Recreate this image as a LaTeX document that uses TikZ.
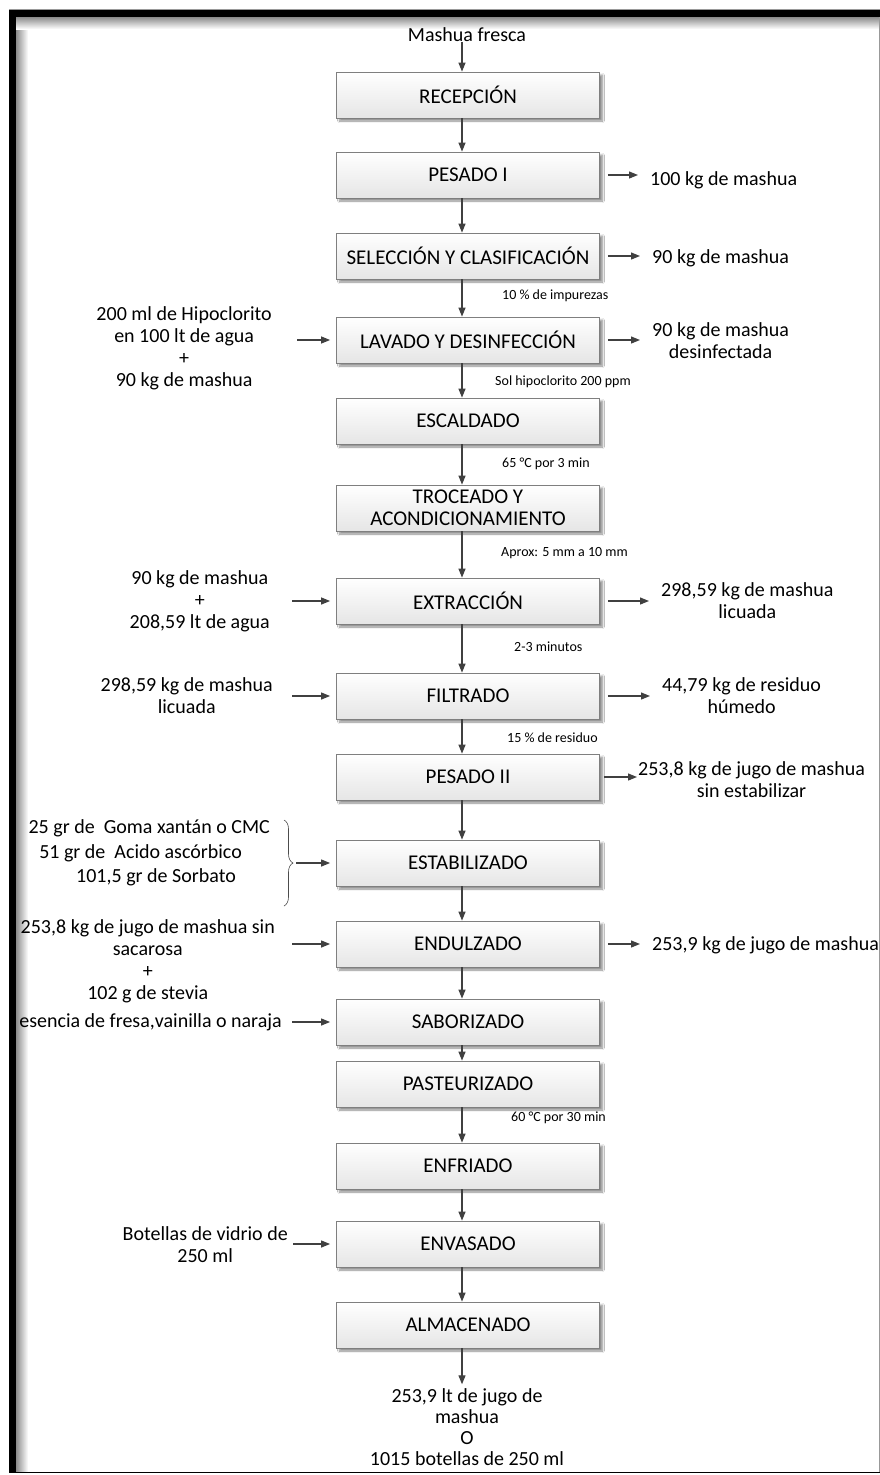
\documentclass[tikz,border=0pt]{standalone}
\usepackage{fontspec}
\setmainfont{Carlito}
\usetikzlibrary{arrows.meta,shadows.blur,decorations.pathreplacing}
\definecolor{arrgray}{HTML}{404040}
\definecolor{boxline}{HTML}{7F7F7F}
\begin{document}
\begin{tikzpicture}[x=1pt,y=-1pt,
  stepbox/.style={draw=boxline, line width=0.8pt, top color=white, bottom color=black!10,
    minimum width=263pt, minimum height=46pt, inner sep=0pt, align=center,
    font=\fontsize{21}{23}\selectfont,
    blur shadow={shadow xshift=3pt, shadow yshift=-3pt, shadow blur steps=6, shadow opacity=45}},
  lbl/.style={align=center, inner sep=0pt, font=\fontsize{20}{22}\selectfont},
  note/.style={anchor=west, inner sep=0pt, font=\fontsize{14}{16}\selectfont},
  arr/.style={draw=arrgray, line width=1.2pt, -{Triangle[length=9pt,width=7pt]}},
  rarr/.style={arr, shorten >=12pt},
  larr/.style={arr, shorten <=#1},
  bracestyle/.style={draw=black!70, line width=0.6pt, decorate, decoration={brace, amplitude=9pt}}
]
\useasboundingbox (0,0) rectangle (880,1475);
% frame
\fill[white] (0,0) rectangle (880,1475);
\shade[left color=black!45, right color=white] (16,17) rectangle (28,1472);
\shade[top color=black!45, bottom color=white] (16,17) rectangle (880,29);
\fill[black] (9,10) rectangle (880,17);
\fill[black] (9,10) rectangle (16,1473);
\draw[black!40, line width=0.6pt] (9,9.5) -- (880,9.5);
\draw[black!40, line width=0.6pt] (879,17) -- (879,1472);
\draw[black, line width=1pt] (9,1472.5) -- (880,1472.5);

% main boxes
\node[stepbox] (b1) at (468,95) {RECEPCIÓN};
\node[stepbox] (b2) at (468,175) {PESADO I};
\node[stepbox] (b3) at (468,256) {SELECCIÓN Y CLASIFICACIÓN};
\node[stepbox] (b4) at (468,340) {LAVADO Y DESINFECCIÓN};
\node[stepbox] (b5) at (468,421) {ESCALDADO};
\node[stepbox, font=\fontsize{21}{22}\selectfont] (b6) at (468,508) {TROCEADO Y\\ACONDICIONAMIENTO};
\node[stepbox] (b7) at (468,601) {EXTRACCIÓN};
\node[stepbox] (b8) at (468,696) {FILTRADO};
\node[stepbox] (b9) at (468,777) {PESADO II};
\node[stepbox] (b10) at (468,863) {ESTABILIZADO};
\node[stepbox] (b11) at (468,944) {ENDULZADO};
\node[stepbox] (b12) at (468,1022) {SABORIZADO};
\node[stepbox] (b13) at (468,1084) {PASTEURIZADO};
\node[stepbox] (b14) at (468,1166) {ENFRIADO};
\node[stepbox] (b15) at (468,1244) {ENVASADO};
\node[stepbox] (b16) at (468,1325) {ALMACENADO};

% input / output
\node[lbl] (in) at (467,35) {Mashua fresca};
\node[lbl, font=\fontsize{20}{21}\selectfont] (out) at (467,1427) {253,9 lt de jugo de\\mashua\\O\\1015 botellas de 250 ml};

% vertical arrows
\draw[arr] ([xshift=-5pt]in.south) -- ([xshift=-6pt]b1.north);
\foreach \a/\b in {b1/b2,b2/b3,b3/b4,b4/b5,b5/b6,b6/b7,b7/b8,b8/b9,b9/b10,b10/b11,b11/b12,b12/b13,b13/b14,b14/b15,b15/b16}
  \draw[arr] ([xshift=-6pt]\a.south) -- ([xshift=-6pt]\b.north);
\draw[arr, shorten >=4pt] ([xshift=-6pt]b16.south) -- ([xshift=-5pt]out.north);

% notes
\node[note] (n1) at (502,296) {10 \% de impurezas};
\node[note] (n2) at (495,382) {Sol hipoclorito 200 ppm};
\node[note] (n3) at (502,464) {65 °C por 3 min};
\node[note] (n4) at (501,553) {Aprox: 5 mm a 10 mm};
\node[note] (n5) at (514,647) {2-3 minutos};
\node[note] (n6) at (507,738) {15 \% de residuo};
\node[note] (n7) at (511,1118) {60 °C por 30 min};

% right outputs
\node[lbl, anchor=west] (r1) at (650,180) {100 kg de mashua};
\node[lbl, anchor=west] (r2) at (652,258) {90 kg de mashua};
\node[lbl, anchor=west] (r3) at (652,341) {90 kg de mashua\\desinfectada};
\node[lbl, anchor=west] (r4) at (661,601) {298,59 kg de mashua\\licuada};
\node[lbl, anchor=west] (r5) at (662,696) {44,79 kg de residuo\\húmedo};
\node[lbl, anchor=west] (r6) at (638,780) {253,8 kg de jugo de mashua\\sin estabilizar};
\node[lbl, anchor=west] (r7) at (652,945) {253,9 kg de jugo de mashua};

\draw[rarr] ([xshift=8pt]b2.east) -- (b2.east -| r1.west);
\draw[rarr] ([xshift=8pt]b3.east) -- (b3.east -| r2.west);
\draw[rarr] ([xshift=8pt]b4.east) -- (b4.east -| r3.west);
\draw[rarr] ([xshift=8pt]b7.east) -- (b7.east -| r4.west);
\draw[rarr] ([xshift=8pt]b8.east) -- (b8.east -| r5.west);
\draw[arr, shorten >=1pt] ([xshift=4pt]b9.east) -- (b9.east -| r6.west);
\draw[rarr] ([xshift=8pt]b11.east) -- (b11.east -| r7.west);

% left inputs
\node[lbl, anchor=east] (l1) at (272,348) {200 ml de Hipoclorito\\en 100 lt de agua\\+\\90 kg de mashua};
\node[lbl, anchor=east] (l2) at (270,601) {90 kg de mashua\\+\\208,59 lt de agua};
\node[lbl, anchor=east] (l3) at (273,696) {298,59 kg de mashua\\licuada};
\node[lbl, anchor=east] (s1) at (270,828) {25 gr de\ \ Goma xantán o CMC};
\node[lbl, anchor=east] (s2) at (242,853) {51 gr de\ \ Acido ascórbico};
\node[lbl, anchor=east] (s3) at (236,877) {101,5 gr de Sorbato};
\node[lbl, anchor=east] (l5) at (275,961) {253,8 kg de jugo de mashua sin\\sacarosa\\+\\102 g de stevia};
\node[lbl, anchor=east] (l6) at (282,1022) {esencia de fresa,vainilla o naraja};
\node[lbl, anchor=east] (l7) at (288,1245) {Botellas de vidrio de\\250 ml};

\draw[larr=25pt] (l1.east |- b4.west) -- ([xshift=-6pt]b4.west);
\draw[larr=22pt] (l2.east |- b7.west) -- ([xshift=-6pt]b7.west);
\draw[larr=19pt] (l3.east |- b8.west) -- ([xshift=-6pt]b8.west);
\draw[larr=17pt] (l5.east |- b11.west) -- ([xshift=-6pt]b11.west);
\draw[larr=10pt] (l6.east |- b12.west) -- ([xshift=-6pt]b12.west);
\draw[larr=5pt] (l7.east |- b15.west) -- ([xshift=-6pt]b15.west);

% brace for stabilizers
\draw[bracestyle] (284,820) -- (284,906);
\coordinate (bt) at (296,863);
\draw[arr] (bt) -- ([xshift=-6pt]b10.west);
\end{tikzpicture}
\end{document}
